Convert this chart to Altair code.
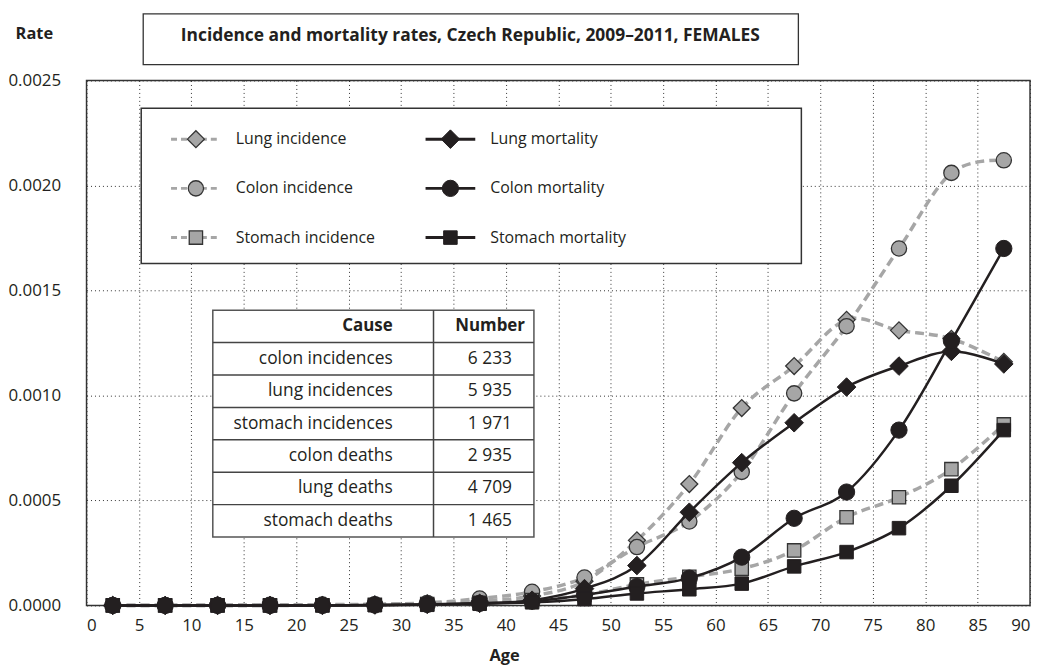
import altair as alt
import pandas as pd

# ---------------- data ----------------
ages = [2.5, 7.5, 12.5, 17.5, 22.5, 27.5, 32.5, 37.5, 42.5, 47.5,
        52.5, 57.5, 62.5, 67.5, 72.5, 77.5, 82.5, 87.5]

lung_incidence = [0.0, 0.0, 0.0, 0.0, 0.000002, 0.000004, 0.00001, 0.00002, 0.000045,
                  0.000115, 0.00031, 0.000578, 0.00094, 0.00114, 0.00136, 0.00131,
                  0.00127, 0.00116]
colon_incidence = [0.000001, 0.000001, 0.000002, 0.000003, 0.000004, 0.000006, 0.000012,
                   0.000033, 0.000065, 0.000133, 0.000278, 0.0004, 0.000636, 0.00101,
                   0.00133, 0.0017, 0.00206, 0.00212]
stomach_incidence = [0.0, 0.0, 0.0, 0.0, 0.000001, 0.000003, 0.000006, 0.000012, 0.000025,
                     0.00005, 0.0001, 0.000136, 0.000175, 0.000262, 0.00042, 0.000515,
                     0.000649, 0.000862]
lung_mortality = [0.0, 0.0, 0.0, 0.0, 0.0, 0.000002, 0.000005, 0.00001, 0.000025,
                  0.00008, 0.00019, 0.000444, 0.00068, 0.00087, 0.00104, 0.00114,
                  0.00121, 0.00115]
colon_mortality = [0.0, 0.0, 0.0, 0.0, 0.0, 0.000002, 0.000005, 0.00001, 0.00002,
                   0.00005, 0.00009, 0.00013, 0.00023, 0.000415, 0.00054, 0.000835,
                   0.00126, 0.0017]
stomach_mortality = [0.0, 0.0, 0.0, 0.0, 0.0, 0.000001, 0.000003, 0.000008, 0.000015,
                     0.00003, 0.000057, 0.000077, 0.000104, 0.000186, 0.000254, 0.000368,
                     0.00057, 0.000835]

x_ticks = [0, 5, 10, 15, 20, 25, 30, 35, 40, 45, 50, 55, 60, 65, 70, 75, 80, 85, 90]
y_ticks = [0.0, 0.0005, 0.0010, 0.0015, 0.0020, 0.0025]

causes_tbl = ["colon incidences", "lung incidences", "stomach incidences",
              "colon deaths", "lung deaths", "stomach deaths"]
numbers_tbl = ["6 233", "5 935", "1 971", "2 935", "4 709", "1 465"]
tbl_header = ["Cause", "Number"]

title_text = "Incidence and mortality rates, Czech Republic, 2009\u20132011, FEMALES"

series_defs = [
    ("Lung incidence", "Lung", "inc", lung_incidence),
    ("Colon incidence", "Colon", "inc", colon_incidence),
    ("Stomach incidence", "Stomach", "inc", stomach_incidence),
    ("Lung mortality", "Lung", "mort", lung_mortality),
    ("Colon mortality", "Colon", "mort", colon_mortality),
    ("Stomach mortality", "Stomach", "mort", stomach_mortality),
]

rows = []
for name, cause, kind, vals in series_defs:
    for a, v in zip(ages, vals):
        rows.append({"series": name, "cause": cause, "kind": kind, "age": a, "rate": v})
df = pd.DataFrame(rows)
df_inc = df[df.kind == "inc"]
df_mort = df[df.kind == "mort"]

# ---------------- styling / layout ----------------
W, H = 949, 528
FONT = "Open Sans"
INK = "#231f20"
GRAY = "#a6a6a6"
SHAPES = alt.Scale(domain=["Lung", "Colon", "Stomach"], range=["diamond", "circle", "square"])
SIZE_INC = alt.Scale(domain=["Lung", "Colon", "Stomach"], range=[290, 180, 225])
SIZE_MORT = alt.Scale(domain=["Lung", "Colon", "Stomach"], range=[350, 185, 230])

x_enc = alt.X("age:Q", scale=alt.Scale(domain=[0, 90], nice=False, zero=False),
              axis=alt.Axis(values=x_ticks, title="Age", grid=True, titleX=420, titleY=50,
                            titleBaseline="middle", titleAlign="center",
                            labelPadding=12, format="d"))
y_enc = alt.Y("rate:Q", scale=alt.Scale(domain=[0, 0.0025], nice=False),
              axis=alt.Axis(values=y_ticks, format=".4f", title="Rate", grid=True,
                            titleAngle=0, titleX=-53, titleY=-47, titleAlign="center",
                            titleBaseline="middle", labelPadding=26))

inc_lines = alt.Chart(df_inc).mark_line(
    strokeDash=[9, 5], strokeWidth=3.5, color=GRAY, interpolate="cardinal"
).encode(x=x_enc, y=y_enc, detail="series:N")

inc_points = alt.Chart(df_inc).mark_point(
    filled=True, fill=GRAY, stroke="#333333", strokeWidth=1.3, opacity=1
).encode(x="age:Q", y="rate:Q",
         shape=alt.Shape("cause:N", scale=SHAPES, legend=None),
         size=alt.Size("cause:N", scale=SIZE_INC, legend=None))

mort_lines = alt.Chart(df_mort).mark_line(
    strokeWidth=2.5, color=INK, interpolate="cardinal"
).encode(x="age:Q", y="rate:Q", detail="series:N")

mort_points = alt.Chart(df_mort).mark_point(
    filled=True, fill=INK, stroke=INK, strokeWidth=1, opacity=1
).encode(x="age:Q", y="rate:Q",
         shape=alt.Shape("cause:N", scale=SHAPES, legend=None),
         size=alt.Size("cause:N", scale=SIZE_MORT, legend=None))

# ---------------- title box ----------------
title_box = alt.Chart(pd.DataFrame({"k": [0]})).mark_rect(
    fill="white", stroke="#333333", strokeWidth=1.3
).encode(x=alt.value(57), x2=alt.value(716), y=alt.value(-67), y2=alt.value(-16))
title_txt = alt.Chart(pd.DataFrame({"t": [title_text]})).mark_text(
    font=FONT, fontSize=17.5, fontWeight="bold", color=INK, align="center", baseline="middle"
).encode(x=alt.value(386), y=alt.value(-45), text="t:N")

# ---------------- legend (drawn) ----------------
leg_rows = []
for i, (name, cause, kind, _) in enumerate(series_defs):
    col = 0 if kind == "inc" else 1
    row = i % 3
    cx = 110 if col == 0 else 366
    cy = 59 + row * 49.5
    leg_rows.append({"label": name, "cause": cause, "kind": kind,
                     "cx": cx, "x1": cx - 25, "x2": cx + 25, "cy": cy, "tx": cx + 40})
leg = pd.DataFrame(leg_rows)
leg_inc = leg[leg.kind == "inc"]
leg_mort = leg[leg.kind == "mort"]

PX = lambda f: alt.X(f, scale=None, axis=None)
PY = lambda f: alt.Y(f, scale=None, axis=None)

leg_box = alt.Chart(pd.DataFrame({"k": [0]})).mark_rect(
    fill="white", stroke="#333333", strokeWidth=1.5
).encode(x=alt.value(55), x2=alt.value(719), y=alt.value(28), y2=alt.value(184))
leg_inc_line = alt.Chart(leg_inc).mark_rule(
    color=GRAY, strokeWidth=3, strokeDash=[6, 4]
).encode(x=PX("x1:Q"), x2="x2:Q", y=PY("cy:Q"))
leg_mort_line = alt.Chart(leg_mort).mark_rule(
    color=INK, strokeWidth=3
).encode(x=PX("x1:Q"), x2="x2:Q", y=PY("cy:Q"))
leg_inc_pt = alt.Chart(leg_inc).mark_point(
    filled=True, fill=GRAY, stroke="#333333", strokeWidth=1.3, opacity=1
).encode(x=PX("cx:Q"), y=PY("cy:Q"),
         shape=alt.Shape("cause:N", scale=SHAPES, legend=None),
         size=alt.Size("cause:N", scale=SIZE_INC, legend=None))
leg_mort_pt = alt.Chart(leg_mort).mark_point(
    filled=True, fill=INK, stroke=INK, strokeWidth=1, opacity=1
).encode(x=PX("cx:Q"), y=PY("cy:Q"),
         shape=alt.Shape("cause:N", scale=SHAPES, legend=None),
         size=alt.Size("cause:N", scale=SIZE_MORT, legend=None))
leg_txt = alt.Chart(leg).mark_text(
    font=FONT, fontSize=16, color=INK, align="left", baseline="middle"
).encode(x=PX("tx:Q"), y=PY("cy:Q"), text="label:N")

# ---------------- table (drawn) ----------------
T_X0, T_X1, T_XD = 127, 450, 349
T_Y0, ROW_H = 231, 32.6
n_rows = len(causes_tbl) + 1
tbl = pd.DataFrame({"cause": causes_tbl, "num": numbers_tbl})
tbl["i"] = range(1, len(causes_tbl) + 1)
tbl["yc"] = T_Y0 + ROW_H / 2 + tbl["i"] * ROW_H
tbl["ytop"] = T_Y0 + tbl["i"] * ROW_H
tbl["cx"] = T_X0 + 181
tbl["nx"] = T_X0 + 301
tbl["x0"] = T_X0
tbl["x1"] = T_X1
hdr = pd.DataFrame({"t": tbl_header, "x": [T_X0 + 181, T_X0 + 314]})
hdr["yc"] = T_Y0 + ROW_H / 2

tbl_box = alt.Chart(pd.DataFrame({"k": [0]})).mark_rect(
    fill="white", stroke="#555555", strokeWidth=1.5
).encode(x=alt.value(T_X0), x2=alt.value(T_X1), y=alt.value(T_Y0),
         y2=alt.value(T_Y0 + n_rows * ROW_H))
tbl_hlines = alt.Chart(tbl).mark_rule(color="#444444", strokeWidth=1.5).encode(
    x=PX("x0:Q"), x2="x1:Q", y=PY("ytop:Q"))
tbl_vline = alt.Chart(pd.DataFrame({"k": [0]})).mark_rule(color="#444444", strokeWidth=1.5).encode(
    x=alt.value(T_XD), y=alt.value(T_Y0), y2=alt.value(T_Y0 + n_rows * ROW_H))
tbl_hdr = alt.Chart(hdr).mark_text(
    font=FONT, fontSize=17, fontWeight="bold", color=INK, align="right", baseline="middle"
).encode(x=PX("x:Q"), y=PY("yc:Q"), text="t:N")
tbl_cause = alt.Chart(tbl).mark_text(
    font=FONT, fontSize=17.5, color=INK, align="right", baseline="middle"
).encode(x=PX("cx:Q"), y=PY("yc:Q"), text="cause:N")
tbl_num = alt.Chart(tbl).mark_text(
    font=FONT, fontSize=17.5, color=INK, align="right", baseline="middle"
).encode(x=PX("nx:Q"), y=PY("yc:Q"), text="num:N")

chart = alt.layer(
    inc_lines, inc_points, mort_lines, mort_points,
    title_box, title_txt,
    leg_box, leg_inc_line, leg_mort_line, leg_inc_pt, leg_mort_pt, leg_txt,
    tbl_box, tbl_hlines, tbl_vline, tbl_hdr, tbl_cause, tbl_num,
).resolve_scale(shape="independent", size="independent").properties(
    width=W, height=H,
    autosize=alt.AutoSizeParams(type="none"),
    padding={"left": 79, "top": 71, "right": 4, "bottom": 61},
).configure_view(
    stroke="#333333", strokeWidth=1.5
).configure_axis(
    labelFont=FONT, labelFontSize=17, labelColor=INK,
    titleFont=FONT, titleFontSize=16.5, titleFontWeight="bold", titleColor=INK,
    ticks=False, domain=False,
    gridColor="#333333", gridDash=[1, 3], gridWidth=1, gridOpacity=1,
)

chart.save("out.html", embed_options={"renderer": "svg", "actions": False})
